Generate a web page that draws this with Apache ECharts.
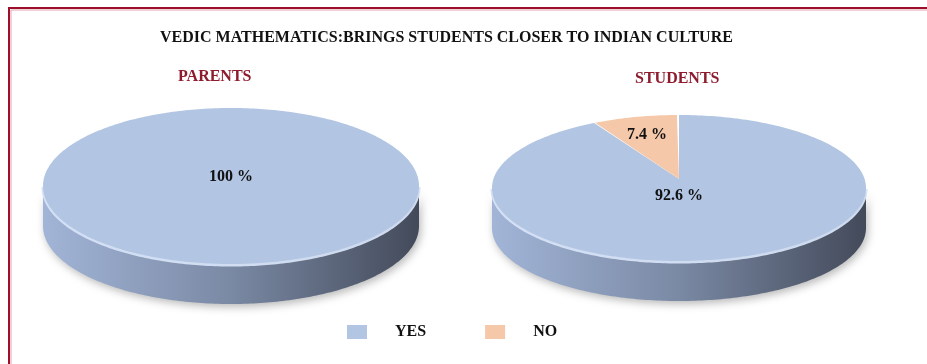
<!DOCTYPE html>
<html>
<head>
<meta charset="utf-8">
<script src="https://cdn.jsdelivr.net/npm/echarts@6/dist/echarts.min.js"></script>
<style>
html,body{margin:0;padding:0;background:#fff;}
#chart{width:927px;height:364px;}
</style>
</head>
<body>
<div id="chart"></div>
<script>
// ---- data ----
const chartTitle = 'VEDIC MATHEMATICS:BRINGS STUDENTS CLOSER TO INDIAN CULTURE';
const groups = ['PARENTS', 'STUDENTS'];
const answers = ['YES', 'NO'];
const yesValues = [100, 92.6];
const noValues = [0, 7.4];

// ---- style / layout ----
const seriesValues = [yesValues, noValues];
const topColors = ['#B2C5E3', '#F5C8A9'];
const pieGeom = [
  { cx: 231, cy: 186, rx: 188, ry: 78, depth: 40 },
  { cx: 679, cy: 188, rx: 187, ry: 73, depth: 40 }
];
const serif = '"Liberation Serif", "Times New Roman", serif';

function ePt(g, deg, dy) {
  const r = deg * Math.PI / 180;
  return [g.cx + g.rx * Math.sin(r), g.cy - g.ry * Math.cos(r) + (dy || 0)];
}

function makeRender(sIdx) {
  return function (params, api) {
    const i = params.dataIndex;
    const g = pieGeom[i];
    const total = seriesValues.reduce((s, arr) => s + arr[i], 0);
    let before = 0;
    for (let k = 0; k < sIdx; k++) before += seriesValues[k][i];
    const val = api.value(0);
    if (!val) return null;
    const a0 = before / total * 360;
    const a1 = (before + val) / total * 360;
    const children = [];

    // side (front visible half 90..270)
    const s0 = Math.max(a0, 90), s1 = Math.min(a1, 270);
    if (s1 > s0) {
      const pts = [];
      for (let d = s0; d <= s1 + 1e-6; d += 1) pts.push(ePt(g, Math.min(d, s1)));
      for (let d = s1; d >= s0 - 1e-6; d -= 1) pts.push(ePt(g, Math.max(d, s0), g.depth));
      children.push({
        type: 'polygon',
        shape: { points: pts },
        style: {
          fill: {
            type: 'linear', x: g.cx - g.rx, y: 0, x2: g.cx + g.rx, y2: 0, global: true,
            colorStops: [
              { offset: 0, color: '#A2B5D7' },
              { offset: 0.5, color: '#7A89A4' },
              { offset: 1, color: '#434A5A' }
            ]
          },
          shadowBlur: 8, shadowColor: 'rgba(0,0,0,0.28)', shadowOffsetX: 2, shadowOffsetY: 3
        },
        z2: 1
      });
      const rim = [];
      for (let d = s0; d <= s1 + 1e-6; d += 1) rim.push(ePt(g, Math.min(d, s1), 1));
      children.push({
        type: 'polyline',
        shape: { points: rim },
        style: { stroke: 'rgba(214,226,246,0.95)', lineWidth: 3, fill: null },
        z2: 2
      });
    }

    // top face
    const tp = [];
    const full = (a1 - a0) >= 359.999;
    if (!full) tp.push([g.cx, g.cy - 9]);
    for (let d = a0; d <= a1 + 1e-6; d += 1) tp.push(ePt(g, Math.min(d, a1)));
    children.push({
      type: 'polygon',
      shape: { points: tp },
      style: { fill: topColors[sIdx] },
      z2: 3
    });

    // label
    let lx, ly;
    const pct = val / total * 100;
    if (full) { lx = g.cx; ly = g.cy - 9; }
    else {
      const mid = (a0 + a1) / 2;
      const f = pct > 50 ? 0.16 : 0.74;
      const p = ePt(g, mid);
      lx = g.cx + (p[0] - g.cx) * f + (pct > 50 ? -7 : 0);
      ly = g.cy + (p[1] - g.cy) * f + (pct > 50 ? -4 : -1);
    }
    children.push({
      type: 'text',
      x: lx, y: ly,
      style: {
        text: (Math.round(pct * 10) / 10) + ' %',
        fill: '#111', font: 'bold 16px ' + serif,
        align: 'center', verticalAlign: 'middle'
      },
      z2: 5
    });
    return { type: 'group', children: children };
  };
}

const chart = echarts.init(document.getElementById('chart'));
chart.setOption({
  animation: false,
  backgroundColor: '#fff',
  title: [
    { text: chartTitle, left: 155, top: 25, textStyle: { fontFamily: serif, fontSize: 16, fontWeight: 'bold', color: '#111' } },
    { text: groups[0], left: 173, top: 64, textStyle: { fontFamily: serif, fontSize: 16, fontWeight: 'bold', color: '#8E1B2E' } },
    { text: groups[1], left: 630, top: 66, textStyle: { fontFamily: serif, fontSize: 16, fontWeight: 'bold', color: '#8E1B2E' } }
  ],
  legend: {
    data: answers,
    left: 347, top: 324, padding: 0,
    icon: 'rect', itemWidth: 20, itemHeight: 14, itemGap: 59,
    textStyle: { fontFamily: serif, fontSize: 16, fontWeight: 'bold', color: '#111', padding: [0, 0, 0, 23] }
  },
  graphic: [
    { type: 'polyline', shape: { points: [[9, 364], [9, 8], [927, 8]] }, style: { stroke: '#9E0F2C', lineWidth: 2, fill: null }, z: 10 },
    { type: 'polyline', shape: { points: [[11, 364], [11, 10], [927, 10]] }, style: { stroke: '#E3A1AE', lineWidth: 1, fill: null }, z: 10 }
  ],
  series: answers.map((name, sIdx) => ({
    type: 'custom',
    name: name,
    coordinateSystem: 'none',
    color: topColors[sIdx],
    z: 2 + sIdx,
    data: seriesValues[sIdx].map(v => [v]),
    renderItem: makeRender(sIdx)
  }))
});
</script>
</body>
</html>
